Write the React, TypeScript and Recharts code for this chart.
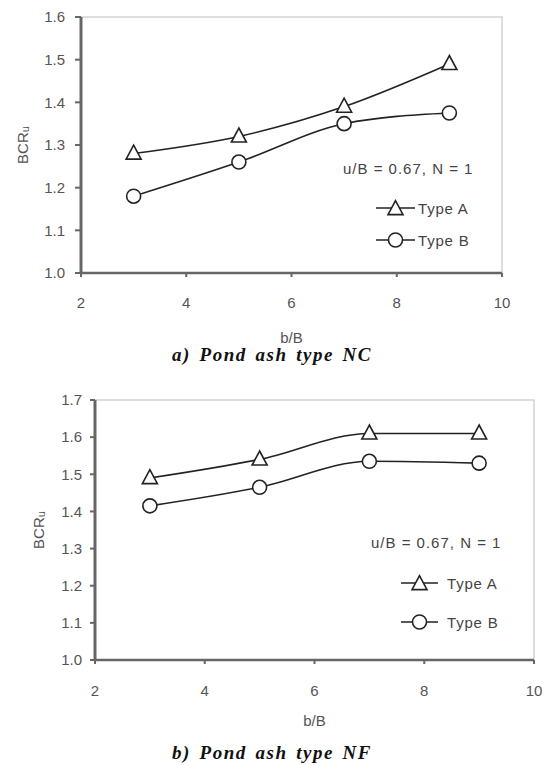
import React from "react";
import { LineChart, Line, XAxis, YAxis, ReferenceArea, Legend } from "recharts";

// b/B values on the x axis
const bRatio = [3, 5, 7, 9];

// a) Pond ash type NC
const ncTypeA = [1.28, 1.32, 1.39, 1.49];
const ncTypeB = [1.18, 1.26, 1.35, 1.375];

// b) Pond ash type NF
const nfTypeA = [1.49, 1.54, 1.61, 1.61];
const nfTypeB = [1.415, 1.465, 1.535, 1.53];

const xTicks = [2, 4, 6, 8, 10];
const ncYTicks = [1.0, 1.1, 1.2, 1.3, 1.4, 1.5, 1.6];
const nfYTicks = [1.0, 1.1, 1.2, 1.3, 1.4, 1.5, 1.6, 1.7];

const seriesNames = ["Type A", "Type B"];
const note = "u/B = 0.67, N = 1";
const xTitle = "b/B";
const captions = ["a) Pond ash type NC", "b) Pond ash type NF"];

const toRows = (a: number[], b: number[]) =>
  bRatio.map((x, i) => ({ x, typeA: a[i], typeB: b[i] }));

const INK = "#222";
const GREY = "#555";
const AXIS = "#666";
const SANS = "Arial, 'Liberation Sans', sans-serif";

const Marker = ({ kind, cx, cy }: any) => {
  if (kind === "triangle") {
    const w = 15;
    const h = 14;
    const d = `M${cx},${cy - h * 0.6} L${cx - w / 2},${cy + h * 0.4} L${cx + w / 2},${cy + h * 0.4} Z`;
    return <path d={d} fill="#fff" stroke={INK} strokeWidth={1.6} />;
  }
  return <circle cx={cx} cy={cy} r={7} fill="#fff" stroke={INK} strokeWidth={1.6} />;
};

const dotOf = (kind: string) => (props: any) => (
  <Marker key={`${kind}-${props.index}`} kind={kind} cx={props.cx} cy={props.cy} />
);

const legendContent = (cfg: any) => (props: any) => {
  const { payload = [] } = props;
  return (
    <svg width={170} height={110} style={{ display: "block", overflow: "visible" }}>
      <text
        x={0}
        y={cfg.noteY}
        dominantBaseline="central"
        fill="#444"
        fontFamily={SANS}
        fontSize={15}
        letterSpacing={1}
      >
        {note}
      </text>
      {payload.map((p: any, i: number) => {
        const y = cfg.rowY[i];
        const kind = i === 0 ? "triangle" : "circle";
        return (
          <g key={p.value}>
            <line x1={cfg.lineX0} x2={cfg.lineX1} y1={y} y2={y} stroke={INK} strokeWidth={1.6} />
            <Marker kind={kind} cx={(cfg.lineX0 + cfg.lineX1) / 2} cy={y + (kind === "triangle" ? 1 : 0)} />
            <text
              x={cfg.textX}
              y={y}
              dominantBaseline="central"
              fill="#444"
              fontFamily={SANS}
              fontSize={15}
              letterSpacing={0.8}
            >
              {p.value}
            </text>
          </g>
        );
      })}
    </svg>
  );
};

const PondChart = ({ cfg, data, yTicks }: any) => {
  const yMax = yTicks[yTicks.length - 1];
  return (
    <div style={{ position: "absolute", left: 0, top: cfg.top }}>
      <LineChart width={549} height={cfg.height} data={data} margin={cfg.margin}>
        <ReferenceArea x1={2} x2={10} y1={1} y2={yMax} fill="none" stroke="#d4d4d4" strokeWidth={1.5} />
        <XAxis
          dataKey="x"
          type="number"
          domain={[2, 10]}
          ticks={xTicks}
          height={60}
          axisLine={{ stroke: AXIS, strokeWidth: 2.5 }}
          tickLine={{ stroke: AXIS, strokeWidth: 2 }}
          tickSize={4}
          tickMargin={cfg.xTickMargin}
          tick={{ fill: GREY, fontSize: 15, fontFamily: SANS }}
          label={({ viewBox }: any) => (
            <text
              x={viewBox.x + viewBox.width / 2}
              y={viewBox.y + cfg.xTitleDy}
              textAnchor="middle"
              dominantBaseline="central"
              fill={GREY}
              fontFamily={SANS}
              fontSize={15}
            >
              {xTitle}
            </text>
          )}
        />
        <YAxis
          type="number"
          domain={[1, yMax]}
          ticks={yTicks}
          width={cfg.yAxisWidth}
          axisLine={{ stroke: AXIS, strokeWidth: 3 }}
          tickLine={{ stroke: AXIS, strokeWidth: 2 }}
          tickSize={cfg.yTickSize}
          tickMargin={cfg.yTickMargin}
          tickFormatter={(v: number) => v.toFixed(1)}
          tick={{ fill: GREY, fontSize: 15, fontFamily: SANS }}
          label={({ viewBox }: any) => {
            const cx = viewBox.x + cfg.yTitleX;
            const cy = viewBox.y + viewBox.height / 2;
            return (
              <text
                x={cx}
                y={cy}
                transform={`rotate(-90, ${cx}, ${cy})`}
                textAnchor="middle"
                dominantBaseline="central"
                fill={GREY}
                fontFamily={SANS}
                fontSize={15}
              >
                BCR<tspan fontSize={11} dy={3}>u</tspan>
              </text>
            );
          }}
        />
        <Legend
          layout="horizontal"
          verticalAlign="middle"
          align="center"
          content={legendContent(cfg.legend)}
          wrapperStyle={{ left: cfg.legend.left, top: cfg.legend.top, width: "auto", height: "auto" }}
        />
        <Line
          type="monotone"
          dataKey="typeA"
          name={seriesNames[0]}
          stroke={INK}
          strokeWidth={1.6}
          dot={dotOf("triangle")}
          isAnimationActive={false}
        />
        <Line
          type="monotone"
          dataKey="typeB"
          name={seriesNames[1]}
          stroke={INK}
          strokeWidth={1.6}
          dot={dotOf("circle")}
          isAnimationActive={false}
        />
      </LineChart>
    </div>
  );
};

const ncLayout = {
  top: 0,
  height: 345,
  margin: { top: 17, right: 47, bottom: 12, left: 0 },
  yAxisWidth: 81,
  yTickSize: 6,
  yTickMargin: 10,
  xTickMargin: 20,
  xTitleDy: 64,
  yTitleX: 22,
  legend: { left: 343, top: 155, noteY: 13, rowY: [53, 85], lineX0: 33, lineX1: 72, textX: 75 },
};

const nfLayout = {
  top: 380,
  height: 350,
  margin: { top: 20, right: 15, bottom: 10, left: 0 },
  yAxisWidth: 95,
  yTickSize: 5,
  yTickMargin: 8,
  xTickMargin: 21,
  xTitleDy: 60,
  yTitleX: 38,
  legend: { left: 371, top: 149, noteY: 13, rowY: [54, 93], lineX0: 30, lineX1: 67, textX: 76 },
};

const captionStyle: React.CSSProperties = {
  position: "absolute",
  left: 0,
  width: 544,
  textAlign: "center",
  fontFamily: "'Liberation Serif', 'Times New Roman', serif",
  fontWeight: "bold",
  fontStyle: "italic",
  fontSize: 19,
  letterSpacing: 1.5,
  wordSpacing: 2.5,
  lineHeight: "24px",
  color: "#111",
};

export default function App() {
  return (
    <div style={{ position: "absolute", left: 0, top: 0, width: 549, height: 765, background: "#fff" }}>
      <PondChart cfg={ncLayout} data={toRows(ncTypeA, ncTypeB)} yTicks={ncYTicks} />
      <div style={{ ...captionStyle, top: 343 }}>{captions[0]}</div>
      <PondChart cfg={nfLayout} data={toRows(nfTypeA, nfTypeB)} yTicks={nfYTicks} />
      <div style={{ ...captionStyle, top: 741 }}>{captions[1]}</div>
    </div>
  );
}
